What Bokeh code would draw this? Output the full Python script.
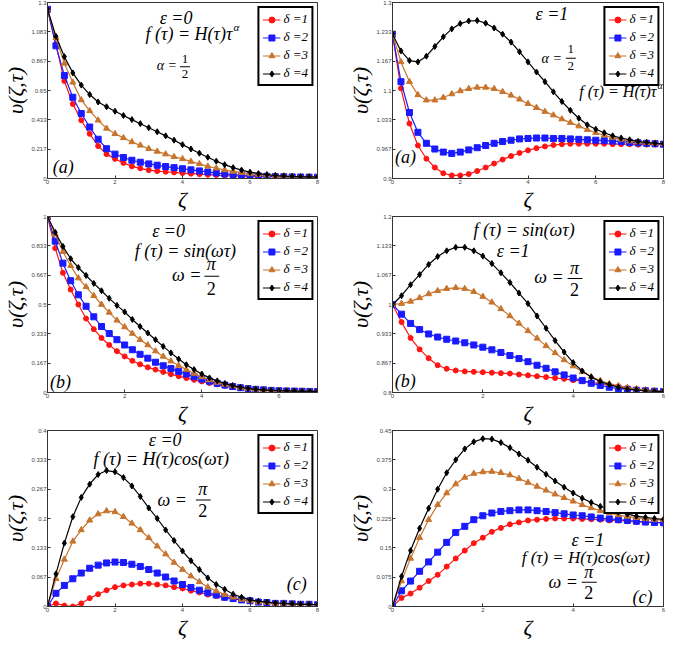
from bokeh.plotting import figure
from bokeh.models import (Range1d, FixedTicker, Label, Legend, LegendItem,
                          BoxAnnotation, CustomJSTickFormatter)
from bokeh.layouts import column, row
from bokeh.embed import file_html
from bokeh.resources import INLINE

# ---------------- data ----------------
zeta_8 = [0, 0.25, 0.5, 0.75, 1.0, 1.25, 1.5, 1.75, 2.0, 2.25, 2.5, 2.75, 3.0, 3.25, 3.5, 3.75,
          4.0, 4.25, 4.5, 4.75, 5.0, 5.25, 5.5, 5.75, 6.0, 6.25, 6.5, 6.75, 7.0, 7.25, 7.5, 7.75, 8.0]
zeta_7 = [0, 0.2, 0.4, 0.6, 0.8, 1.0, 1.2, 1.4, 1.6, 1.8, 2.0, 2.2, 2.4, 2.6, 2.8, 3.0, 3.2, 3.4,
          3.6, 3.8, 4.0, 4.2, 4.4, 4.6, 4.8, 5.0, 5.2, 5.4, 5.6, 5.8, 6.0, 6.2, 6.4, 6.6, 6.8, 7.0]
zeta_6 = [0, 0.2, 0.4, 0.6, 0.8, 1.0, 1.2, 1.4, 1.6, 1.8, 2.0, 2.2, 2.4, 2.6, 2.8, 3.0, 3.2, 3.4,
          3.6, 3.8, 4.0, 4.2, 4.4, 4.6, 4.8, 5.0, 5.2, 5.4, 5.6, 5.8, 6.0]

series_labels = ["δ =1", "δ =2", "δ =3", "δ =4"]

# (a) eps=0, f=H(t) t^alpha
tl_d1 = [1.25, 0.99, 0.72, 0.55, 0.43, 0.33, 0.24, 0.18, 0.145, 0.115, 0.09, 0.075, 0.062, 0.055, 0.05, 0.045,
         0.04, 0.036, 0.032, 0.028, 0.025, 0.022, 0.02, 0.018, 0.016, 0.015, 0.014, 0.013, 0.012, 0.012, 0.011, 0.011, 0.01]
tl_d2 = [1.25, 0.98, 0.76, 0.6, 0.48, 0.38, 0.29, 0.22, 0.18, 0.155, 0.135, 0.12, 0.108, 0.098, 0.088, 0.08,
         0.072, 0.064, 0.056, 0.048, 0.04, 0.034, 0.029, 0.025, 0.022, 0.019, 0.016, 0.014, 0.013, 0.012, 0.011, 0.01, 0.01]
tl_d3 = [1.25, 1.04, 0.85, 0.71, 0.58, 0.5, 0.43, 0.37, 0.33, 0.3, 0.27, 0.245, 0.22, 0.2, 0.18, 0.16,
         0.145, 0.125, 0.108, 0.09, 0.076, 0.063, 0.052, 0.043, 0.036, 0.03, 0.025, 0.021, 0.018, 0.015, 0.013, 0.012, 0.011]
tl_d4 = [1.25, 1.05, 0.9, 0.78, 0.69, 0.62, 0.565, 0.53, 0.497, 0.465, 0.435, 0.405, 0.375, 0.345, 0.315, 0.283,
         0.25, 0.218, 0.187, 0.157, 0.128, 0.102, 0.08, 0.062, 0.047, 0.036, 0.028, 0.022, 0.018, 0.015, 0.013, 0.012, 0.011]

# (a) eps=1, f=H(t) t^alpha
tr_d1 = [1.228, 1.105, 1.025, 0.975, 0.945, 0.925, 0.912, 0.907, 0.907, 0.91, 0.917, 0.925, 0.934, 0.943, 0.951, 0.958,
         0.964, 0.969, 0.973, 0.976, 0.978, 0.979, 0.979, 0.979, 0.979, 0.979, 0.978, 0.978, 0.978, 0.977, 0.977, 0.977, 0.977]
tr_d2 = [1.228, 1.12, 1.05, 1.005, 0.98, 0.967, 0.96, 0.957, 0.96, 0.965, 0.97, 0.975, 0.98, 0.984, 0.987, 0.99,
         0.991, 0.992, 0.992, 0.991, 0.991, 0.99, 0.989, 0.988, 0.987, 0.986, 0.985, 0.984, 0.982, 0.981, 0.98, 0.979, 0.978]
tr_d3 = [1.228, 1.165, 1.12, 1.09, 1.078, 1.078, 1.084, 1.092, 1.099, 1.104, 1.107, 1.107, 1.104, 1.097, 1.089, 1.08,
         1.07, 1.061, 1.052, 1.044, 1.035, 1.027, 1.019, 1.011, 1.004, 0.998, 0.993, 0.989, 0.985, 0.983, 0.981, 0.98, 0.979]
tr_d4 = [1.228, 1.19, 1.168, 1.165, 1.178, 1.2, 1.222, 1.24, 1.252, 1.258, 1.259, 1.253, 1.242, 1.228, 1.21, 1.188,
         1.165, 1.142, 1.12, 1.097, 1.075, 1.055, 1.037, 1.022, 1.012, 1.004, 0.997, 0.992, 0.988, 0.984, 0.982, 0.98, 0.979]

# (b) eps=0, f=sin(wt)
ml_d1 = [1.0, 0.82, 0.68, 0.585, 0.5, 0.42, 0.36, 0.31, 0.27, 0.235, 0.205, 0.18, 0.16, 0.143, 0.13, 0.117, 0.104, 0.093,
         0.082, 0.072, 0.063, 0.054, 0.046, 0.038, 0.032, 0.026, 0.021, 0.017, 0.014, 0.012, 0.01, 0.009, 0.008, 0.007, 0.006, 0.006]
ml_d2 = [1.0, 0.86, 0.735, 0.635, 0.555, 0.49, 0.43, 0.375, 0.335, 0.3, 0.27, 0.243, 0.217, 0.195, 0.172, 0.152, 0.136, 0.12,
         0.105, 0.09, 0.076, 0.064, 0.052, 0.042, 0.034, 0.027, 0.022, 0.018, 0.015, 0.012, 0.01, 0.009, 0.008, 0.007, 0.006, 0.006]
ml_d3 = [1.0, 0.9, 0.8, 0.72, 0.65, 0.6, 0.55, 0.5, 0.455, 0.41, 0.372, 0.335, 0.3, 0.27, 0.235, 0.205, 0.178, 0.153,
         0.13, 0.108, 0.088, 0.071, 0.057, 0.046, 0.037, 0.029, 0.023, 0.018, 0.015, 0.012, 0.01, 0.009, 0.008, 0.007, 0.006, 0.006]
ml_d4 = [1.0, 0.91, 0.83, 0.76, 0.71, 0.665, 0.62, 0.578, 0.535, 0.495, 0.458, 0.415, 0.375, 0.338, 0.3, 0.262, 0.225, 0.19,
         0.158, 0.13, 0.105, 0.083, 0.066, 0.051, 0.039, 0.03, 0.023, 0.018, 0.015, 0.012, 0.01, 0.009, 0.008, 0.007, 0.006, 0.006]

# (b) eps=1, f=sin(wt)
mr_d1 = [1.0, 0.96, 0.924, 0.898, 0.878, 0.862, 0.854, 0.85, 0.848, 0.847, 0.846, 0.845, 0.844, 0.843, 0.841, 0.839,
         0.837, 0.835, 0.833, 0.831, 0.828, 0.826, 0.823, 0.82, 0.817, 0.814, 0.811, 0.808, 0.806, 0.804, 0.803]
mr_d2 = [1.0, 0.978, 0.957, 0.943, 0.933, 0.926, 0.921, 0.917, 0.913, 0.908, 0.903, 0.897, 0.891, 0.884, 0.877, 0.87,
         0.862, 0.855, 0.847, 0.84, 0.833, 0.827, 0.821, 0.816, 0.812, 0.809, 0.807, 0.805, 0.804, 0.803, 0.802]
mr_d3 = [1.0, 1.002, 1.007, 1.015, 1.024, 1.031, 1.036, 1.038, 1.036, 1.029, 1.018, 1.005, 0.99, 0.974, 0.957, 0.94,
         0.923, 0.906, 0.89, 0.874, 0.86, 0.847, 0.836, 0.827, 0.82, 0.815, 0.811, 0.808, 0.806, 0.804, 0.803]
mr_d4 = [1.0, 1.02, 1.045, 1.068, 1.091, 1.109, 1.122, 1.13, 1.13, 1.122, 1.11, 1.093, 1.072, 1.05, 1.026, 1.002,
         0.974, 0.946, 0.918, 0.892, 0.868, 0.849, 0.835, 0.825, 0.818, 0.812, 0.808, 0.806, 0.804, 0.803, 0.802]

# (c) eps=0, f=H(t)cos(wt)
bl_d1 = [0, 0.007, 0.002, 0.0, 0.007, 0.019, 0.028, 0.037, 0.044, 0.048, 0.05, 0.052, 0.052, 0.05, 0.048, 0.044,
         0.041, 0.036, 0.032, 0.027, 0.024, 0.02, 0.017, 0.015, 0.013, 0.01, 0.009, 0.007, 0.007, 0.006, 0.005, 0.005, 0.004]
bl_d2 = [0, 0.03, 0.048, 0.063, 0.076, 0.087, 0.094, 0.099, 0.101, 0.1, 0.096, 0.091, 0.084, 0.076, 0.067, 0.058,
         0.05, 0.043, 0.037, 0.031, 0.026, 0.021, 0.018, 0.015, 0.013, 0.01, 0.009, 0.007, 0.007, 0.006, 0.005, 0.005, 0.004]
bl_d3 = [0, 0.063, 0.107, 0.148, 0.174, 0.196, 0.21, 0.217, 0.215, 0.204, 0.189, 0.174, 0.156, 0.137, 0.119, 0.1,
         0.084, 0.069, 0.056, 0.044, 0.035, 0.027, 0.021, 0.016, 0.013, 0.01, 0.009, 0.007, 0.007, 0.006, 0.005, 0.005, 0.004]
bl_d4 = [0, 0.074, 0.144, 0.204, 0.248, 0.278, 0.3, 0.309, 0.306, 0.293, 0.274, 0.25, 0.224, 0.2, 0.174, 0.15,
         0.126, 0.104, 0.084, 0.065, 0.05, 0.039, 0.028, 0.021, 0.015, 0.012, 0.01, 0.008, 0.007, 0.006, 0.005, 0.005, 0.004]

# (c) eps=1, f=H(t)cos(wt)
br_d1 = [0, 0.022, 0.033, 0.048, 0.065, 0.081, 0.102, 0.123, 0.143, 0.162, 0.176, 0.191, 0.201, 0.21, 0.215, 0.22,
         0.222, 0.224, 0.225, 0.225, 0.225, 0.224, 0.223, 0.222, 0.22, 0.22, 0.218, 0.216, 0.215, 0.215, 0.214]
br_d2 = [0, 0.04, 0.065, 0.09, 0.114, 0.139, 0.164, 0.189, 0.205, 0.222, 0.232, 0.239, 0.243, 0.245, 0.247, 0.247,
         0.245, 0.243, 0.24, 0.237, 0.234, 0.232, 0.229, 0.226, 0.224, 0.222, 0.22, 0.218, 0.216, 0.215, 0.214]
br_d3 = [0, 0.065, 0.123, 0.176, 0.222, 0.26, 0.29, 0.313, 0.33, 0.34, 0.344, 0.345, 0.342, 0.336, 0.327, 0.317,
         0.307, 0.297, 0.287, 0.278, 0.269, 0.26, 0.252, 0.245, 0.239, 0.234, 0.23, 0.227, 0.224, 0.222, 0.221]
br_d4 = [0, 0.077, 0.143, 0.2, 0.251, 0.3, 0.342, 0.375, 0.403, 0.421, 0.429, 0.428, 0.419, 0.406, 0.39, 0.374,
         0.356, 0.338, 0.321, 0.305, 0.29, 0.277, 0.266, 0.256, 0.248, 0.241, 0.236, 0.231, 0.228, 0.225, 0.223]

# tick values (also the tick labels)
ticks_x8 = [0, 2, 4, 6, 8]
ticks_x6 = [0, 2, 4, 6]
yt_tl = [0, 0.217, 0.433, 0.65, 0.867, 1.083, 1.3]
yt_tr = [0.9, 0.967, 1.033, 1.1, 1.167, 1.233, 1.3]
yt_ml = [0, 0.167, 0.333, 0.5, 0.667, 0.833, 1]
yt_mr = [0.8, 0.867, 0.933, 1, 1.067, 1.133, 1.2]
yt_bl = [0, 0.067, 0.133, 0.2, 0.267, 0.333, 0.4]
yt_br = [0, 0.075, 0.15, 0.225, 0.3, 0.375, 0.45]

# ---------------- style ----------------
COLORS = ["#ff1414", "#1a1aff", "#c8742c", "#000000"]
MARKERS = ["circle", "square", "triangle", "diamond"]
MSIZES = [5, 6, 6, 6]
SERIF = "Liberation Serif"

# panel specs: ref frame box (l, t, r, b) used to place annotations relative to the frame
panels = [
    dict(x=zeta_8, ys=[tl_d1, tl_d2, tl_d3, tl_d4], xr=(0, 8), yr=(0, 1.3), xt=ticks_x8, yt=yt_tl,
         frame=(45, 4, 318, 185),
         texts=[("ε =0", 175, 20, 18, "center", "italic"),
                ("f (τ) = H(τ)τ", 232, 36, 18, "right", "italic"),
                ("α", 233, 29, 11, "left", "italic"),
                ("α =", 176, 69, 14, "right", "italic"),
                ("1", 184, 62, 13, "center", "normal"),
                ("2", 184, 78, 13, "center", "normal"),
                ("(a)", 61, 173, 18, "center", "italic")],
         bars=[(179, 189, 70)]),
    dict(x=zeta_8, ys=[tr_d1, tr_d2, tr_d3, tr_d4], xr=(0, 8), yr=(0.9, 1.3), xt=ticks_x8, yt=yt_tr,
         frame=(398, 5, 670, 185),
         texts=[("ε =1", 558, 17, 18, "center", "italic"),
                ("α =", 568, 62, 14, "right", "italic"),
                ("1", 577, 53, 13, "center", "normal"),
                ("2", 577, 70, 13, "center", "normal"),
                ("f (τ) = H(τ)τ", 663, 96, 16, "right", "italic"),
                ("α", 664, 90, 10, "left", "italic"),
                ("(a)", 411, 163, 18, "center", "italic")],
         bars=[(572, 582, 62)]),
    dict(x=zeta_7, ys=[ml_d1, ml_d2, ml_d3, ml_d4], xr=(0, 7), yr=(0, 1), xt=ticks_x6, yt=yt_ml,
         frame=(45, 223, 317, 403),
         texts=[("ε =0", 167, 238, 18, "center", "italic"),
                ("f (τ) = sin(ωτ)", 184, 258, 18, "center", "italic"),
                ("ω =", 200, 283, 18, "right", "italic"),
                ("π", 210, 272, 18, "center", "italic"),
                ("2", 210, 297, 18, "center", "normal"),
                ("(b)", 58, 392, 18, "center", "italic")],
         bars=[(203, 218, 284)]),
    dict(x=zeta_6, ys=[mr_d1, mr_d2, mr_d3, mr_d4], xr=(0, 6), yr=(0.8, 1.2), xt=ticks_x6, yt=yt_mr,
         frame=(401, 223, 675, 402),
         texts=[("f (τ) = sin(ωτ)", 534, 237, 18, "center", "italic"),
                ("ε =1", 523, 258, 18, "center", "italic"),
                ("ω =", 574, 285, 18, "right", "italic"),
                ("π", 585, 275, 18, "center", "italic"),
                ("2", 585, 297, 18, "center", "normal"),
                ("(b)", 414, 390, 18, "center", "italic")],
         bars=[(578, 593, 286)]),
    dict(x=zeta_8, ys=[bl_d1, bl_d2, bl_d3, bl_d4], xr=(0, 8), yr=(0, 0.4), xt=ticks_x8, yt=yt_bl,
         frame=(45, 448, 318, 628),
         texts=[("ε =0", 164, 458, 18, "center", "italic"),
                ("f (τ) = H(τ)cos(ωτ)", 160, 477, 18, "center", "italic"),
                ("ω =", 186, 519, 18, "right", "italic"),
                ("π", 202, 508, 18, "center", "italic"),
                ("2", 202, 530, 18, "center", "normal"),
                ("(c)", 297, 605, 18, "center", "italic")],
         bars=[(195, 210, 519)]),
    dict(x=zeta_6, ys=[br_d1, br_d2, br_d3, br_d4], xr=(0, 6), yr=(0, 0.45), xt=ticks_x6, yt=yt_br,
         frame=(406, 442, 678, 623),
         texts=[("ε =1", 602, 555, 18, "center", "italic"),
                ("f (τ) = H(τ)cos(ωτ)", 600, 573, 17, "center", "italic"),
                ("ω =", 592, 598, 18, "right", "italic"),
                ("π", 603, 588, 18, "center", "italic"),
                ("2", 603, 609, 18, "center", "normal"),
                ("(c)", 657, 613, 18, "center", "italic")],
         bars=[(596, 611, 598)]),
]


def to_data(spec, px, py):
    l, t, r, b = spec["frame"]
    x0, x1 = spec["xr"]
    y0, y1 = spec["yr"]
    return (x0 + (px - l) / (r - l) * (x1 - x0), y0 + (b - py) / (b - t) * (y1 - y0))


def build(spec, width, bl, br):
    p = figure(width=width, height=214, x_range=Range1d(*spec["xr"]), y_range=Range1d(*spec["yr"]),
               output_backend="svg", toolbar_location=None,
               min_border_left=bl, min_border_right=br, min_border_top=2, min_border_bottom=28)
    p.background_fill_color = "white"
    p.border_fill_color = "white"
    p.outline_line_color = "#333333"
    p.outline_line_width = 1
    p.xgrid.visible = False
    p.ygrid.visible = False
    fmt = CustomJSTickFormatter(code="return String(tick);")
    for ax, ticks in ((p.xaxis[0], spec["xt"]), (p.yaxis[0], spec["yt"])):
        ax.ticker = FixedTicker(ticks=ticks)
        ax.formatter = fmt
        ax.major_label_text_font_size = "6px"
        ax.major_label_text_color = "#444444"
        ax.major_label_text_font = "Liberation Sans"
        ax.major_label_standoff = 1
        ax.major_tick_in = 3
        ax.major_tick_out = 0
        ax.minor_tick_line_color = None
        ax.axis_line_color = "#333333"
        ax.major_tick_line_color = "#333333"
        ax.axis_label_text_font = SERIF
        ax.axis_label_text_font_style = "italic"
        ax.axis_label_text_font_size = "22px"
        ax.axis_label_text_color = "black"
        ax.axis_label_standoff = 0
    p.xaxis.axis_label = "ζ"
    p.yaxis.axis_label = "υ(ζ,τ)"

    items = []
    for i, ys in enumerate(spec["ys"]):
        ln = p.line(spec["x"], ys, line_color=COLORS[i], line_width=1.2)
        sc = p.scatter(spec["x"], ys, marker=MARKERS[i], size=MSIZES[i],
                       fill_color=COLORS[i], line_color=COLORS[i])
        items.append(LegendItem(label=series_labels[i], renderers=[ln, sc]))
    leg = Legend(items=items, location="top_right", margin=4, padding=3, spacing=2,
                 label_text_font=SERIF, label_text_font_style="italic", label_text_font_size="13px",
                 label_text_color="black",
                 label_height=15, glyph_height=15, glyph_width=18, label_standoff=3,
                 border_line_color="black", border_line_width=2, border_line_alpha=1,
                 background_fill_color="white", background_fill_alpha=1)
    p.add_layout(leg)

    for (txt, px, py, size, align, style) in spec["texts"]:
        x, y = to_data(spec, px, py)
        p.add_layout(Label(x=x, y=y, text=txt, text_font=SERIF, text_font_size=f"{size}px",
                           text_font_style=style, text_align=align, text_baseline="middle",
                           text_color="black"))
    for (x0p, x1p, yp) in spec["bars"]:
        xa, ya = to_data(spec, x0p, yp - 0.5)
        xb, yb = to_data(spec, x1p, yp + 0.5)
        p.add_layout(BoxAnnotation(left=xa, right=xb, top=ya, bottom=yb, fill_color="black",
                                   fill_alpha=1, line_alpha=0))
    return p


figs = []
for k, spec in enumerate(panels):
    if k % 2 == 0:
        figs.append(build(spec, 337, 42, 20))
    else:
        figs.append(build(spec, 332, 55, 6))

layout = column(row(figs[0], figs[1]), row(figs[2], figs[3]), row(figs[4], figs[5]))
open("out.html", "w").write(file_html(layout, INLINE))
